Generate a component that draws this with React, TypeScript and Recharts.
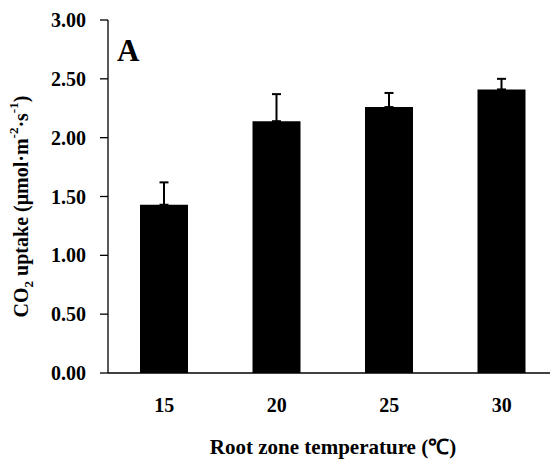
import { Bar, BarChart, ErrorBar, XAxis, YAxis } from "recharts";

const temperatures = ["15", "20", "25", "30"];
const uptake = [1.43, 2.14, 2.26, 2.41];
const uptakeSE = [0.19, 0.23, 0.12, 0.09];
const yTicks = [0, 0.5, 1, 1.5, 2, 2.5, 3];

const data = temperatures.map((t, i) => ({
  temp: t,
  value: uptake[i],
  err: [0, uptakeSE[i]],
}));

const FONT = '"Liberation Serif", "Times New Roman", serif';

const YTitle = ({ viewBox }: any) => {
  const cx = 21;
  const cy = (viewBox?.y ?? 20) + (viewBox?.height ?? 353) / 2 + 10;
  return (
    <text
      x={cx}
      y={cy}
      transform={`rotate(-90, ${cx}, ${cy})`}
      textAnchor="middle"
      dominantBaseline="central"
      fontFamily={FONT}
      fontWeight="bold"
      fontSize={20}
      fill="#000"
    >
      CO
      <tspan baselineShift="sub" fontSize={13}>2</tspan>
      <tspan> uptake (μmol·m</tspan>
      <tspan baselineShift="super" fontSize={13}>-2</tspan>
      <tspan>·s</tspan>
      <tspan baselineShift="super" fontSize={13}>-1</tspan>
      <tspan>)</tspan>
    </text>
  );
};

const XTitle = ({ viewBox }: any) => {
  const x = (viewBox?.x ?? 108) + (viewBox?.width ?? 450) / 2;
  return (
    <text
      x={x}
      y={447}
      textAnchor="middle"
      dominantBaseline="central"
      fontFamily={FONT}
      fontWeight="bold"
      fontSize={21}
      fill="#000"
    >
      Root zone temperature (℃)
    </text>
  );
};

const tickStyle = {
  fontFamily: FONT,
  fontWeight: "bold" as const,
  fontSize: 20,
  fill: "#000",
};

export default function App() {
  return (
    <div
      style={{
        position: "absolute",
        left: 0,
        top: 0,
        width: 550,
        height: 460,
        overflow: "hidden",
        background: "#fff",
      }}
    >
      <BarChart
        width={560}
        height={460}
        data={data}
        margin={{ top: 20, right: 2, left: 0, bottom: 0 }}
      >
        <XAxis
          dataKey="temp"
          height={87}
          axisLine={{ stroke: "#000", strokeWidth: 1.3 }}
          tickLine={false}
          tickSize={0}
          tickMargin={25}
          tick={tickStyle}
          label={<XTitle />}
        />
        <YAxis
          width={108}
          domain={[0, 3]}
          ticks={yTicks}
          interval={0}
          tickFormatter={(v: number) => v.toFixed(2)}
          axisLine={{ stroke: "#000", strokeWidth: 1.3 }}
          tickLine={{ stroke: "#000", strokeWidth: 1.3 }}
          tickSize={8}
          tickMargin={14}
          tick={tickStyle}
          label={<YTitle />}
        />
        <Bar dataKey="value" fill="#000" barSize={48} isAnimationActive={false}>
          <ErrorBar
            dataKey="err"
            width={4.5}
            stroke="#000"
            strokeWidth={2}
            direction="y"
          />
        </Bar>
      </BarChart>
      <div
        style={{
          position: "absolute",
          left: 117,
          top: 31,
          fontFamily: FONT,
          fontWeight: "bold",
          fontSize: 31,
          lineHeight: "40px",
          color: "#000",
        }}
      >
        A
      </div>
    </div>
  );
}
